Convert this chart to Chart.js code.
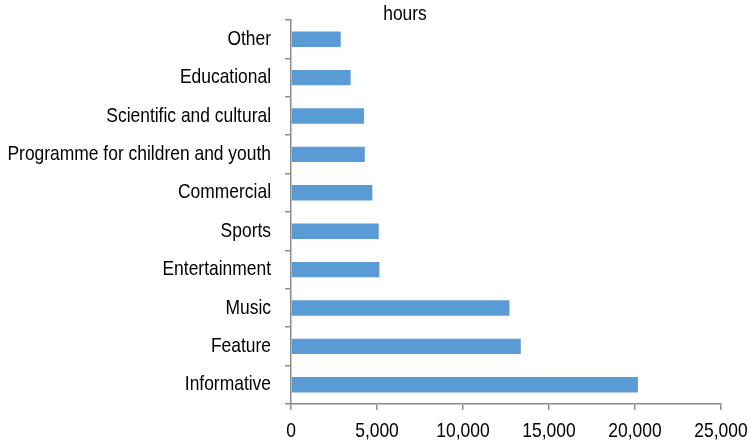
<!DOCTYPE html>
<html>
<head>
<meta charset="utf-8">
<script src="https://cdn.jsdelivr.net/npm/chart.js@4/dist/chart.umd.min.js"></script>
<style>
  html, body { margin: 0; padding: 0; background: #fff; }
  #wrap { width: 752px; height: 441px; position: relative; }
</style>
</head>
<body>
<div id="wrap"><canvas id="chart"></canvas></div>
<script>
// categories, top to bottom
const categories = [
  'Other',
  'Educational',
  'Scientific and cultural',
  'Programme for children and youth',
  'Commercial',
  'Sports',
  'Entertainment',
  'Music',
  'Feature',
  'Informative'
];
// hours
const hours = [2890, 3470, 4250, 4290, 4730, 5100, 5140, 12700, 13360, 20170];
const xTicks = [0, 5000, 10000, 15000, 20000, 25000];
const unitLabel = 'hours';

const axisGrey = '#8c8c8c';
const fontFamily = '"Liberation Sans", Arial, sans-serif';
const fontSize = 21;
const squeeze = 0.83; // the original uses a narrow face; squeeze Liberation Sans to match

// draw text condensed horizontally
function narrowText(c, text, x, y, align) {
  c.save();
  c.translate(x, y);
  c.scale(squeeze, 1);
  c.textAlign = align;
  c.fillText(text, 0, 0);
  c.restore();
}

// tick labels and unit label, placed from the chart's own scales
const labelPlugin = {
  id: 'narrowLabels',
  afterDraw(chart) {
    const c = chart.ctx;
    const xs = chart.scales.x;
    const ys = chart.scales.y;
    c.save();
    c.font = fontSize + 'px ' + fontFamily;
    c.fillStyle = '#000';
    c.textBaseline = 'alphabetic';
    categories.forEach((name, i) => {
      const y = ys.getPixelForValue(i);
      narrowText(c, name, ys.right - 20, y + 5.5, 'right');
    });
    xTicks.forEach((v) => {
      narrowText(c, v.toLocaleString('en-US'), xs.getPixelForValue(v), xs.top + 33, 'center');
    });
    narrowText(c, unitLabel, 405, 20, 'center');
    c.restore();
  }
};

new Chart(document.getElementById('chart').getContext('2d'), {
  type: 'bar',
  data: {
    labels: categories,
    datasets: [{
      data: hours,
      backgroundColor: '#5b9bd5',
      borderWidth: 0,
      barPercentage: 0.4,
      categoryPercentage: 1
    }]
  },
  options: {
    indexAxis: 'y',
    responsive: true,
    maintainAspectRatio: false,
    animation: false,
    layout: { padding: { top: 20, right: 31, left: 0, bottom: 0 } },
    plugins: {
      legend: { display: false },
      tooltip: { enabled: false }
    },
    scales: {
      x: {
        min: 0,
        max: 25000,
        afterBuildTicks: (scale) => { scale.ticks = xTicks.map(v => ({ value: v })); },
        afterFit: (scale) => { scale.height = 37; },
        border: { color: axisGrey, width: 1.5 },
        grid: { drawOnChartArea: false, drawTicks: true, tickLength: 6, color: axisGrey, lineWidth: 1.5 },
        ticks: { display: false }
      },
      y: {
        afterFit: (scale) => { scale.width = 291; },
        border: { color: axisGrey, width: 1.5 },
        grid: { drawOnChartArea: false, drawTicks: true, tickLength: 6, color: axisGrey, lineWidth: 1.5 },
        ticks: { display: false }
      }
    }
  },
  plugins: [labelPlugin]
});
</script>
</body>
</html>
